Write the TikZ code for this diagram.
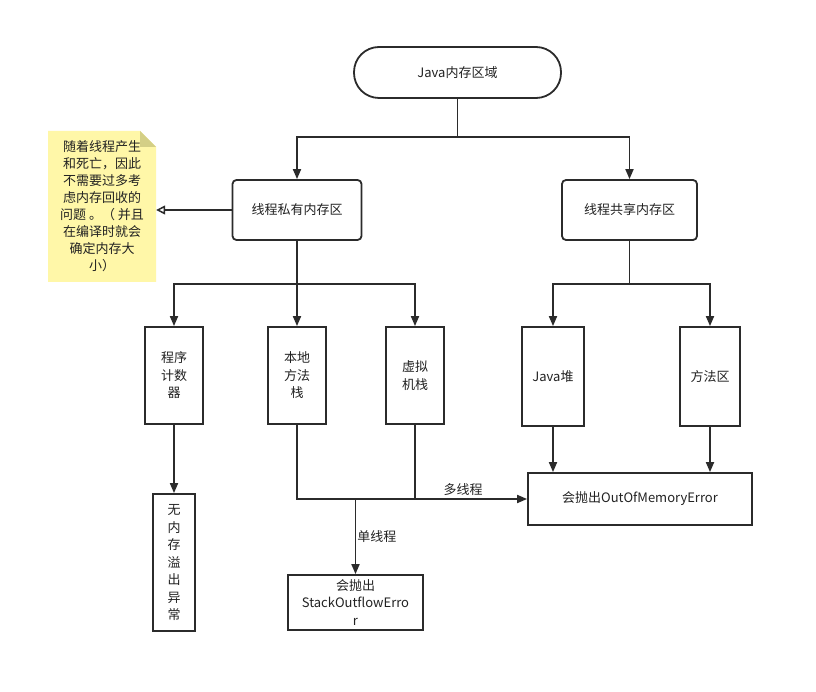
\documentclass[tikz,border=0pt]{standalone}
\usepackage{fontspec}
\setmainfont{Noto Sans CJK SC}
\usetikzlibrary{arrows.meta,backgrounds}
\definecolor{ln}{HTML}{2B2B2B}
\definecolor{txt}{HTML}{222222}
\definecolor{notefill}{HTML}{FFF7A8}
\definecolor{notefold}{HTML}{D4CF86}
\begin{document}
\begin{tikzpicture}[x=1pt,y=-1pt,
  box/.style={draw=ln, line width=1.8pt, fill=white, inner sep=0pt, align=center,
    font=\fontsize{13}{17.5}\selectfont, text=txt},
  lbl/.style={font=\fontsize{13}{17}\selectfont, text=txt, inner sep=1pt},
  conn/.style={draw=ln, line width=1.8pt},
  arr/.style={conn, -{Triangle[length=10pt,width=8pt]}},
  openarr/.style={conn, -{Triangle[open,length=9pt,width=9pt,line width=1.5pt]}}]
\useasboundingbox (0,0) rectangle (816,692);
\fill[white] (0,0) rectangle (816,692);

% note
\fill[notefill] (48,131) -- (140,131) -- (156,147) -- (156,282) -- (48,282) -- cycle;
\fill[notefold] (140,131) -- (156,147) -- (140,147) -- cycle;
\node[lbl, align=center, minimum width=108pt, minimum height=151pt] (note) at (102,206.5)
  {随着线程产生\\和死亡，因此\\不需要过多考\\虑内存回收的\\问题 。（ 并且\\在编译时就会\\确定内存大\\小）};

\node[box, rounded corners=25pt, minimum width=207pt, minimum height=51pt] (java) at (457.5,72.5) {Java内存区域};
\node[box, rounded corners=4pt, minimum width=129pt, minimum height=60pt] (priv) at (297,210) {线程私有内存区};
\node[box, rounded corners=4pt, minimum width=135pt, minimum height=60pt] (shared) at (629.5,210) {线程共享内存区};

\node[box, minimum width=58pt, minimum height=97pt] (pc) at (174,375.5) {程序\\计数\\器};
\node[box, minimum width=58pt, minimum height=97pt] (native) at (297,375.5) {本地\\方法\\栈};
\node[box, minimum width=58pt, minimum height=97pt] (vm) at (415,375.5) {虚拟\\机栈};
\node[box, minimum width=42pt, minimum height=137pt] (nooom) at (174,562.5) {无\\内\\存\\溢\\出\\异\\常};

\node[box, minimum width=62pt, minimum height=99pt] (heap) at (553,376.5) {Java堆};
\node[box, minimum width=60pt, minimum height=99pt] (method) at (710,376.5) {方法区};
\node[box, minimum width=224pt, minimum height=52pt] (oom) at (640,499) {会抛出OutOfMemoryError};
\node[box, minimum width=135pt, minimum height=55pt] (so) at (355.5,602.5) {会抛出\\StackOutflowErro\\r};

% top split
\coordinate (j1) at (457.5,137);
\draw[conn] (java.south) -- (j1);
\draw[arr] (j1) -| (priv.north);
\draw[arr] (j1) -| (shared.north);

% note arrow
\draw[openarr] (priv.west) -- (note.east |- priv.west);

% private branch
\coordinate (b1) at (297,284);
\draw[conn] (priv.south) -- (b1);
\draw[arr] (b1) -| (pc.north);
\draw[arr] (b1) -- (native.north);
\draw[arr] (b1) -| (vm.north);
\draw[arr] (pc.south) -- (nooom.north);

% shared branch
\coordinate (s1) at (629.5,284);
\draw[conn] (shared.south) -- (s1);
\draw[arr] (s1) -| (heap.north);
\draw[arr] (s1) -| (method.north);
\draw[arr] (heap.south) -- (heap.south |- oom.north);
\draw[arr] (method.south) -- (method.south |- oom.north);

% stacks merge
\coordinate (m1) at (297,499);
\coordinate (m2) at (415,499);
\coordinate (m3) at (355.5,499);
\draw[conn] (native.south) -- (m1) -- (m2);
\draw[conn] (vm.south) -- (m2);
\draw[arr] (m2) -- node[lbl, above, pos=0.43, yshift=2pt] {多线程} (oom.west);
\draw[arr] (m3) -- node[lbl, right, pos=0.5] {单线程} (so.north);
\end{tikzpicture}
\end{document}
